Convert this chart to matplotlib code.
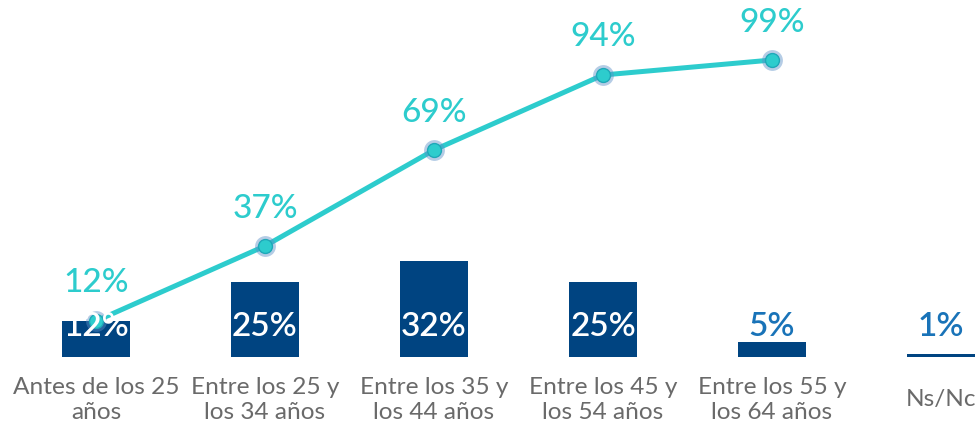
import numpy as np
import matplotlib.pyplot as plt

categorias = ['Antes de los 25\naños', 'Entre los 25 y\nlos 34 años', 'Entre los 35 y\nlos 44 años',
              'Entre los 45 y\nlos 54 años', 'Entre los 55 y\nlos 64 años', 'Ns/Nc']
barras = [12, 25, 32, 25, 5, 1]
acumulado = [12, 37, 69, 94, 99]

azul = '#004481'
turquesa = '#2DCCCD'
azul_claro = '#1973B8'
gris = '#6A6A6A'

fig = plt.figure(figsize=(9.76, 4.26), dpi=100)
ax = fig.add_axes([0, 0, 1, 1])
ax.set_xlim(-0.568, 5.207)
ax.set_ylim(-23, 119)
ax.axis('off')

x = np.arange(len(categorias))
ax.bar(x, barras, width=0.4, color=azul, zorder=1)

for i, v in enumerate(barras):
    col = 'white' if v >= 10 else azul_claro
    ax.text(x[i], 10, f'{v}%', ha='center', va='center', color=col,
            fontsize=24, family='Lato', fontweight='semibold', zorder=5)
    ax.text(x[i], -14.3, categorias[i], ha='center', va='center', color=gris,
            fontsize=17.6, family='Lato', fontweight='normal', linespacing=1.2)

xl = x[:len(acumulado)]
ax.plot(xl, acumulado, color=turquesa, lw=3.6, zorder=3)
ax.plot(xl, acumulado, 'o', ms=15, color='#5B8FC7', alpha=0.45, mew=0, zorder=3)
ax.plot(xl, acumulado, 'o', ms=10, color=turquesa, mec='#1FA8B8', mew=1, zorder=4)
for i, v in enumerate(acumulado):
    ax.text(xl[i], v + 12.5, f'{v}%', ha='center', va='center', color=turquesa,
            fontsize=24, family='Lato', fontweight='medium', zorder=5)

plt.savefig('out.png', dpi=100)
